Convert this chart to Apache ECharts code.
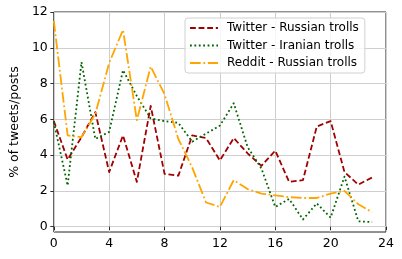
<!DOCTYPE html>
<html>
<head>
<meta charset="utf-8">
<script src="https://cdn.jsdelivr.net/npm/echarts@6/dist/echarts.min.js"></script>
<style>html,body{margin:0;padding:0;background:#fff;}#c{width:402px;height:259px;}</style>
</head>
<body>
<div id="c"></div>
<script>
const hours = [0,1,2,3,4,5,6,7,8,9,10,11,12,13,14,15,16,17,18,19,20,21,22,23];
const twitterRussian = [5.9,3.75,5.0,6.4,3.05,5.1,2.5,6.75,2.95,2.85,5.1,4.95,3.7,4.95,4.1,3.4,4.25,2.5,2.6,5.6,5.9,3.05,2.35,2.75];
const twitterIranian = [5.85,2.3,9.2,4.9,5.3,8.75,7.3,6.05,5.9,5.8,4.75,5.2,5.65,6.9,4.45,3.25,1.1,1.55,0.4,1.3,0.5,2.8,0.3,0.25];
const redditRussian = [11.5,5.1,5.0,6.3,9.15,11.0,5.95,8.95,7.4,4.9,3.3,1.35,1.1,2.6,2.1,1.85,1.75,1.65,1.6,1.6,1.85,2.0,1.25,0.8];
const seriesNames = ['Twitter - Russian trolls','Twitter - Iranian trolls','Reddit - Russian trolls'];
const xTicks = [0,4,8,12,16,20,24];
const yTicks = [0,2,4,6,8,10,12];

const font = 'DejaVu Sans';
const chart = echarts.init(document.getElementById('c'), null, {renderer:'canvas'});
const pairs = arr => arr.map((v,i)=>[hours[i], v]);
const mk = (name, data, color, dash) => ({
  name, type:'line', data: pairs(data), symbol:'none', showSymbol:false,
  color, lineStyle:{color, width:1.8, type:dash, cap:'butt', join:'round'},
  emphasis:{disabled:true}, animation:false
});
chart.setOption({
  animation:false,
  grid:{left:48, right:16, top:12, bottom:27, show:true, borderColor:'#222', borderWidth:1, backgroundColor:'transparent'},
  xAxis:{type:'value', min:0, max:24, interval:4,
    axisLine:{show:false}, axisTick:{show:true, length:3.5, lineStyle:{color:'#000', width:0.8}},
    axisLabel:{color:'#000', fontFamily:font, fontSize:12.5, margin:5},
    splitLine:{show:true, lineStyle:{color:'#cfcfcf', width:1}}},
  yAxis:{type:'value', min:-0.3, max:12,
    name:'% of tweets/posts', nameLocation:'middle', nameGap:32,
    nameTextStyle:{color:'#000', fontFamily:font, fontSize:12.5},
    axisLine:{show:false},
    axisTick:{show:true, length:3.5, customValues:yTicks, lineStyle:{color:'#000', width:0.8}},
    axisLabel:{color:'#000', fontFamily:font, fontSize:12.5, margin:6, customValues:yTicks},
    splitLine:{show:true, lineStyle:{color:'#cfcfcf', width:1}}},
  legend:{orient:'vertical', left:185, top:18, padding:[4,6,4,4], itemGap:5.5,
    itemWidth:28, itemHeight:14, backgroundColor:'rgba(255,255,255,0.8)',
    borderColor:'#d0d0d0', borderWidth:1, borderRadius:3,
    itemStyle:{opacity:0},
    textStyle:{color:'#000', fontFamily:font, fontSize:12, padding:[0,0,0,4]},
    data: seriesNames.map(n=>({name:n}))},
  series:[
    mk(seriesNames[0], twitterRussian, '#a00000', [5.8,2.8]),
    mk(seriesNames[1], twitterIranian, '#006400', [1.8,2.6]),
    mk(seriesNames[2], redditRussian, '#ffa500', [10.7,2.7,1.8,2.7])
  ]
});
</script>
</body>
</html>
